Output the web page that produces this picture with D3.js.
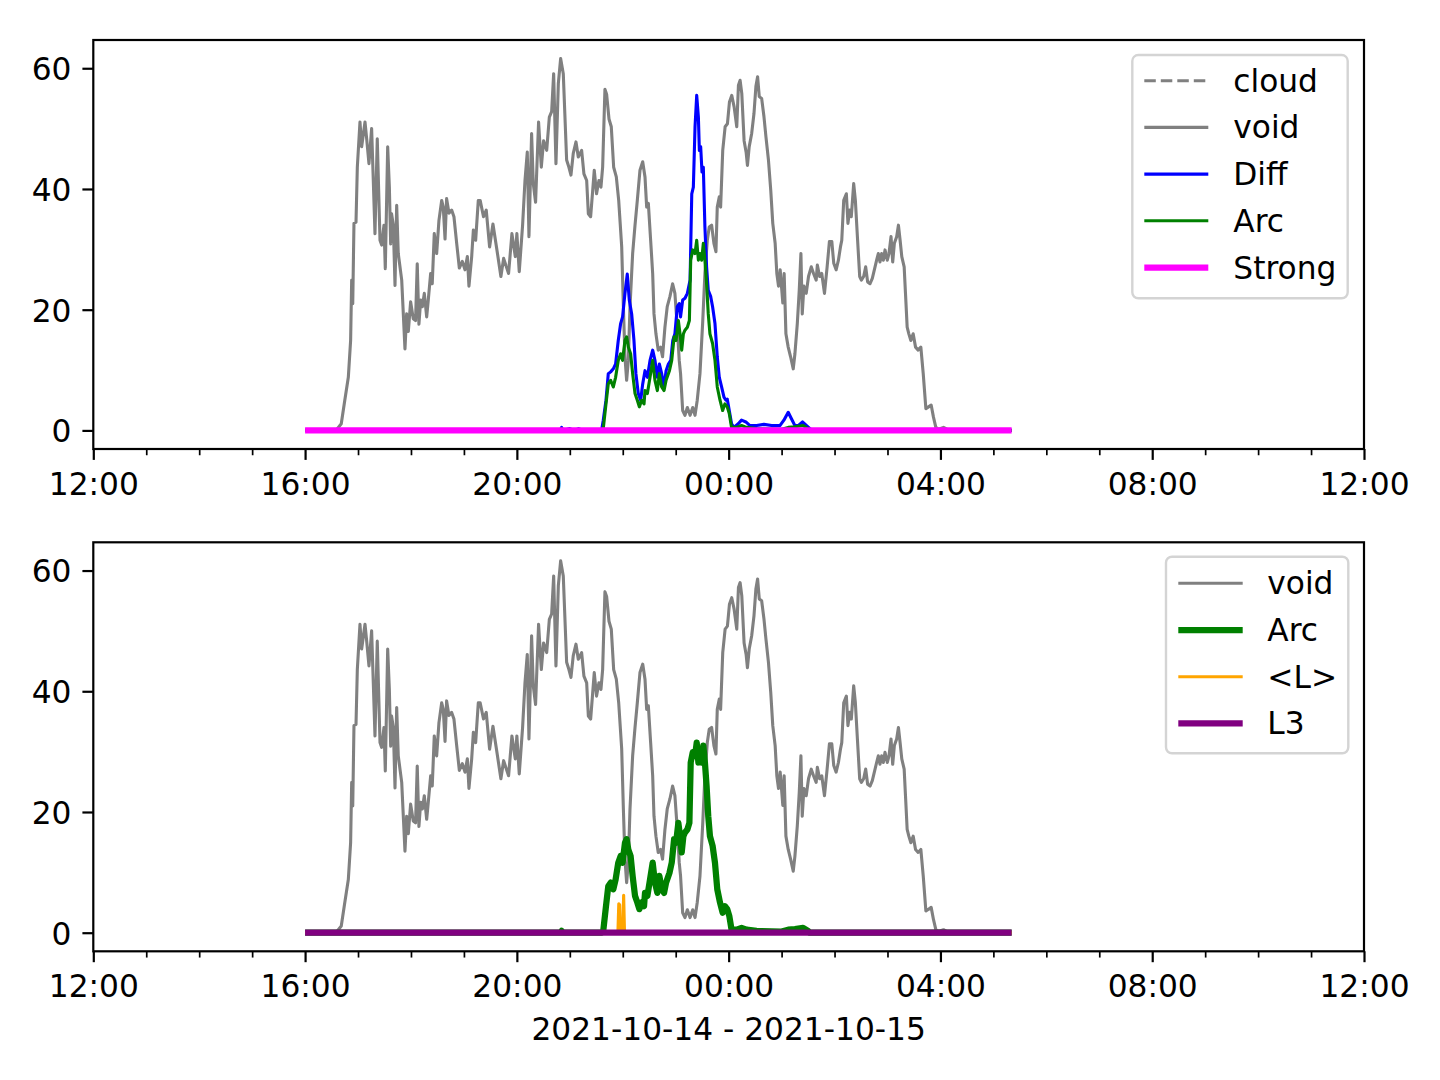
<!DOCTYPE html>
<html><head><meta charset="utf-8">
<script src="https://cdn.jsdelivr.net/npm/d3@7"></script>
<style>
html,body{margin:0;padding:0;background:#fff;}
svg text{font-family:"DejaVu Sans",sans-serif;fill:#000;}
</style></head>
<body><svg id="c" width="1440" height="1080"></svg>
<script>
// minutes after 2021-10-14 16:00, value
const voidSeries = [[0,0],[35,0],[41,1.1],[45,5],[49,8.8],[51.6,14.9],[52.8,24.9],[54,21],[55.4,34.3],[57.7,34.5],[59.2,43.6],[62.2,51.1],[64.1,47],[67.9,51.1],[69.8,48.3],[72.4,44.2],[75.4,50],[77.3,41.4],[79.2,32.6],[81.8,48.3],[84.9,31.5],[86.8,30.7],[89.4,34],[90.9,26.8],[93.6,47],[95.5,40.3],[97,30.9],[98,35.9],[100,34],[101.9,24],[103.8,37.3],[105.6,29.3],[109.5,24.9],[113.2,13.5],[115.1,19.3],[117,16.4],[119.6,21.3],[122.6,18.5],[125.2,18.2],[127.1,27.6],[129,17.6],[131,21.6],[132.9,20.5],[135.1,22.7],[137.8,18.8],[139.6,21.6],[142.3,26],[144.1,24.3],[146.4,32.6],[149.1,29.3],[151.7,34.8],[154.8,38.1],[156.6,37],[158.6,31.7],[160.4,38.4],[163,36],[166.1,36.5],[168.7,35.4],[171.8,31],[174.8,26.9],[178.2,28],[181.2,26.6],[183.9,28.8],[185.7,23.9],[188.8,28.8],[190.7,33.2],[193.3,31.5],[196.3,38.1],[198.4,38.1],[202.2,35.4],[205.3,36.5],[209.1,30.4],[212.9,34.2],[217.4,29.9],[221.9,25.5],[225,28.5],[230.6,26],[234.4,32.6],[238.2,28.8],[240,32.6],[242.7,26.3],[246.5,34],[249.2,41.4],[251.8,46.1],[253.7,32.1],[256.7,49.2],[258.6,40.9],[261.2,37.8],[264.6,51.1],[267.7,43.6],[270.3,48],[273.8,46.4],[276.8,51.9],[279.4,52.8],[281.7,59.1],[284.3,44.2],[287,57.5],[289.6,61.6],[292.6,59.1],[296.4,44.8],[299,43.6],[301.3,42.3],[303.9,45.9],[307,47.8],[309.6,45.3],[313.4,46.4],[316,42.5],[319.1,41.4],[321,35.9],[323.6,35.4],[325.9,39.7],[327.7,43.1],[330.3,39.2],[333,41.4],[335.3,40.3],[337.2,43.6],[339.8,56.5],[341.7,55.7],[344.4,51.6],[347,50.3],[349.7,43.6],[352.7,42],[355.4,38.1],[358.8,30.4],[360.7,20.5],[362.5,12.2],[364.4,8.3],[366.3,11.6],[368.2,20.5],[371.2,29.3],[373.9,34],[376.5,38.1],[379.5,43.1],[382.6,44.5],[385.2,42],[387.1,37],[389,37.6],[391.6,31.5],[393.9,26],[395.4,19.3],[397.6,16],[400.2,13.3],[402.9,13.8],[405.1,12.2],[407.8,17.1],[410.4,20.5],[413.5,22.2],[416.5,24.3],[419.1,22.7],[421.8,17.1],[424,11.6],[425.5,9.4],[427.9,3.3],[430.5,2.5],[433.2,3.8],[436.3,2.5],[439.3,3.8],[441.9,2.5],[444.4,5],[447.5,9.4],[450.5,17.7],[453.1,26],[455.8,31.5],[458,33.7],[460.7,34],[463.3,31],[465.6,29.6],[467.1,37],[469.4,38.7],[470.9,37],[473.3,46.4],[476,50.3],[478.6,50.8],[480.9,54.4],[483.5,55.5],[486.2,53.6],[489.2,50.3],[491.1,57.2],[493,58],[494.9,55.8],[497.5,48],[499.8,46.1],[501.3,43.9],[503.3,47],[506.1,49.2],[508.7,52.5],[510.9,57],[512.8,58.6],[514.7,55.3],[517.4,55],[520,52],[522.3,48.6],[525.1,44.8],[527.7,39.8],[530,34.3],[532.7,31],[534.6,26],[536.5,23.9],[538.4,26.6],[541.4,21.1],[542.9,26],[544.9,16],[547.5,13.8],[550.2,12.2],[553.2,10.2],[555.1,12.7],[557.8,17.7],[560,23.2],[561.9,29.3],[563.4,19.3],[565.3,23.9],[567.9,22.7],[570.5,25.5],[573.6,27.1],[576.2,26],[579.2,24.9],[580.5,27.4],[583.1,25.5],[585.5,26],[588.6,22.7],[591.6,27.1],[594.2,31.3],[596.9,31.3],[599.1,27.7],[601.8,26.6],[604.4,28.2],[606.7,30.4],[608.2,31.5],[610.4,38.1],[613.4,39.2],[615.2,34.3],[617.1,36.5],[619,35.4],[621.7,40.9],[623.6,38.1],[625.9,32.1],[628.5,25.5],[630.4,24.9],[633,25.5],[635.3,27.1],[637.5,24.6],[640.2,24.3],[642.8,25.2],[645.1,26.6],[647.7,28.2],[649.6,29.3],[651.5,27.9],[653.4,29.3],[655.3,28.2],[657.2,29.9],[659.8,28.2],[661.7,29.3],[664,32.1],[665.9,27.9],[667.8,31],[670.4,32.1],[672.4,34],[674.3,31.5],[676.2,28.8],[678.9,27.1],[680.4,22.7],[682.3,17.1],[684.2,16],[686.5,14.9],[689.1,16],[691.8,13.8],[694.8,13.3],[697.8,13.8],[700.5,9.4],[703.5,3.6],[706.5,3.9],[709.5,4.2],[712.1,2.2],[714.8,0.5],[717.8,0.2],[723.5,0.5],[727.3,0.2],[730,0],[800.7,0]];

const diffSeries = [[0,0],[289,0],[290.7,0.5],[292.5,0],[300,0.3],[305,0],[310,0.3],[315,0],[336,0],[337.9,1.7],[341,5],[343.6,9.4],[346.3,9.7],[349.3,10.2],[351.9,11],[354.9,14.9],[357.6,17.7],[359.8,18.8],[362.5,22.7],[365.1,25.9],[367.4,21.6],[370.1,19.3],[372.7,14.9],[374.9,9.4],[377.6,6.1],[380.3,5],[382.6,7.7],[385.2,9.9],[387.9,8.8],[390.9,11.6],[393.9,13.3],[396.5,11.6],[399.2,8.8],[401.5,11],[404.1,9.4],[406.8,7.2],[409.1,9.9],[411.7,11],[414.4,11.6],[416.7,14.9],[419.1,16],[421.8,20.5],[424,21],[425.5,18.8],[427.9,21.6],[430.5,21.9],[433.2,22.7],[436.3,24.9],[438.2,39.2],[440,40.3],[441.9,50.3],[443.8,55.5],[445.7,51.9],[446.8,46.4],[448.3,47],[449.8,42.8],[451.3,43.6],[453.1,33.7],[455,27.1],[456.9,23.2],[459.6,22.2],[461.8,20.5],[464.5,17.7],[467.1,12.2],[469.4,8.8],[472,7.2],[474.7,5.5],[476.9,5],[478.4,5.2],[480.7,3.3],[483.3,1.1],[486,0.5],[490.9,1.1],[494.6,1.7],[499.5,1.4],[504.1,0.8],[511.7,0.8],[520,1],[528.7,0.8],[538.1,0.8],[542.6,1.7],[547.5,3.0],[551.3,1.9],[555.1,0.8],[558.8,0.8],[563.7,1.4],[568.3,0.8],[572.1,0.3],[574,0],[800.7,0]];

const arcSeries = [[0,0],[289,0],[290.7,0.3],[292,0],[336,0],[337.9,0.3],[341,4.4],[343.6,7.7],[346.3,8.3],[349.3,7.2],[351.9,8.8],[354.9,11.6],[357.6,12.7],[359.8,11.6],[362.5,14.9],[364.4,15.5],[366.3,13.8],[368.9,12.7],[371.2,9.4],[373.9,6.1],[376.5,5],[378.8,3.9],[381.4,5],[384.1,4.4],[385.2,6.6],[387.9,6.1],[390.9,8.8],[393.9,11.6],[396.5,8.3],[399.2,6.6],[401.5,9.4],[404.1,7.2],[406.8,6.6],[409.1,8.3],[412.9,9.9],[415.5,11.6],[418.2,15.5],[420.4,14.9],[423,18.2],[424.9,16],[426.8,13.3],[428.7,16],[430.5,16.6],[433.2,17.1],[435.5,18.2],[437,28.2],[439.3,29.9],[441.9,29.3],[443.8,31.5],[445.7,28.2],[447.5,29.3],[449.4,28.2],[451.3,31],[453.1,28.2],[455,24.3],[456.9,19.3],[458.8,16],[461.8,14.4],[464.5,11.6],[467.1,7.2],[470.2,5],[473.2,3.3],[475.8,4.4],[478.4,3.9],[480.7,2.8],[483.3,0.5],[489,0.5],[494.6,0.8],[500.3,0.5],[511.7,0.3],[540,0.2],[547.5,0.5],[555.1,0.6],[564.4,0.8],[570,0.3],[572,0],[800.7,0]];

const lSeries = [[0,0],[354.5,0],[355.5,4.8],[356.5,4.6],[357.3,0],[360,0],[361,6.2],[362,0],[800.7,0]];
const zeroSeries = [[0,0],[800.7,0]]; // cloud, Strong, L3

const majorTicksH = [0,4,8,12,16,20,24];   // hours after 12:00
const yTicks = [0,20,40,60];
const xLabel = "2021-10-14 - 2021-10-15";

const topLegend = [
  {name:"cloud", color:"gray", w:3.1, dash:"11.5,5"},
  {name:"void", color:"gray", w:3.1},
  {name:"Diff", color:"blue", w:3.1},
  {name:"Arc", color:"green", w:3.1},
  {name:"Strong", color:"magenta", w:6.25}
];
const botLegend = [
  {name:"void", color:"gray", w:3.1},
  {name:"Arc", color:"green", w:6.25},
  {name:"<L>", color:"orange", w:3.1},
  {name:"L3", color:"purple", w:6.25}
];

const svg = d3.select("#c");
const t0 = new Date(2021,9,14,12,0);
const tStart = new Date(2021,9,14,16,0);
const t1 = new Date(2021,9,15,12,0);
const toDate = m => new Date(tStart.getTime() + m*60000);

const L = 93.3, R = 1364;
const x = d3.scaleTime().domain([t0,t1]).range([L,R]);
const vmax = d3.max(voidSeries, d=>d[1]);
const yDom = [-0.05*vmax, 1.05*vmax];
const FS = 31.25;

function panel(top, bottom, series, legend, legBox) {
  const y = d3.scaleLinear().domain(yDom).range([bottom, top]);
  const g = svg.append("g");
  const line = d3.line().x(d=>x(toDate(d[0]))).y(d=>y(d[1]));
  g.append("defs").append("clipPath").attr("id","cp"+top).append("rect")
    .attr("x",L).attr("y",top).attr("width",R-L).attr("height",bottom-top);
  const lg = g.append("g").attr("clip-path","url(#cp"+top+")");
  series.forEach(s=>{
    lg.append("path").attr("d",line(s.data)).attr("fill","none")
      .attr("stroke",s.color).attr("stroke-width",s.w)
      .attr("stroke-linejoin","round").attr("stroke-linecap","butt")
      .attr("stroke-dasharray",s.dash||null);
  });
  // frame
  g.append("rect").attr("x",L).attr("y",top).attr("width",R-L).attr("height",bottom-top)
    .attr("fill","none").attr("stroke","#000").attr("stroke-width",2.2);
  // x axis
  const majors = majorTicksH.map(h=>d3.timeHour.offset(t0,h));
  const minors = d3.timeHour.range(t0, d3.timeHour.offset(t1,1)).filter(d=>d.getHours()%4!==0);
  const xa = d3.axisBottom(x).tickValues(majors).tickFormat(d3.timeFormat("%H:%M")).tickSize(10.9).tickPadding(10.9);
  const gx = g.append("g").attr("transform",`translate(0,${bottom})`).call(xa);
  gx.select(".domain").remove();
  gx.selectAll("line").attr("stroke-width",2.2);
  gx.selectAll("text").attr("font-size",FS).attr("dy",null).attr("y",bottom*0+46);
  const xm = d3.axisBottom(x).tickValues(minors).tickFormat("").tickSize(6.25);
  const gm = g.append("g").attr("transform",`translate(0,${bottom})`).call(xm);
  gm.select(".domain").remove();
  gm.selectAll("line").attr("stroke-width",1.7);
  // y axis
  const ya = d3.axisLeft(y).tickValues(yTicks).tickSize(10.9).tickPadding(10.9);
  const gy = g.append("g").attr("transform",`translate(${L},0)`).call(ya);
  gy.select(".domain").remove();
  gy.selectAll("line").attr("stroke-width",2.2);
  gy.selectAll("text").attr("font-size",FS).attr("dy",null).attr("y",11.3);
  // legend
  const [bx0,by0,bx1,by1,hx0,hx1,tx,ry0] = legBox;
  const lgd = g.append("g");
  lgd.append("rect").attr("x",bx0).attr("y",by0).attr("width",bx1-bx0).attr("height",by1-by0)
    .attr("rx",6).attr("fill","#fff").attr("fill-opacity",0.8).attr("stroke","#d4d4d4").attr("stroke-width",2.4);
  legend.forEach((e,i)=>{
    const yy = ry0 + i*46.7;
    lgd.append("line").attr("x1",hx0).attr("x2",hx1).attr("y1",yy).attr("y2",yy)
      .attr("stroke",e.color).attr("stroke-width",e.w).attr("stroke-dasharray",e.dash||null);
    lgd.append("text").attr("x",tx).attr("y",yy+11).attr("font-size",FS).text(e.name);
  });
  return y;
}

panel(40, 449, [
  {data:zeroSeries, color:"gray", w:3.1, dash:"11.5,5"},
  {data:voidSeries, color:"gray", w:3.1},
  {data:diffSeries, color:"blue", w:3.1},
  {data:arcSeries, color:"green", w:3.1},
  {data:zeroSeries, color:"magenta", w:6.25}
], topLegend, [1132.3,55,1347.7,298.3,1144.3,1208.3,1233.3,80.7]);

panel(542.3, 951.3, [
  {data:voidSeries, color:"gray", w:3.1},
  {data:arcSeries, color:"green", w:6.25},
  {data:lSeries, color:"orange", w:3.1},
  {data:zeroSeries, color:"purple", w:6.25}
], botLegend, [1166,556.7,1348.3,753.3,1178.3,1242.7,1267.3,583.3]);

svg.append("text").attr("x",(L+R)/2).attr("y",1040).attr("text-anchor","middle")
  .attr("font-size",FS).text(xLabel);
</script></body></html>
